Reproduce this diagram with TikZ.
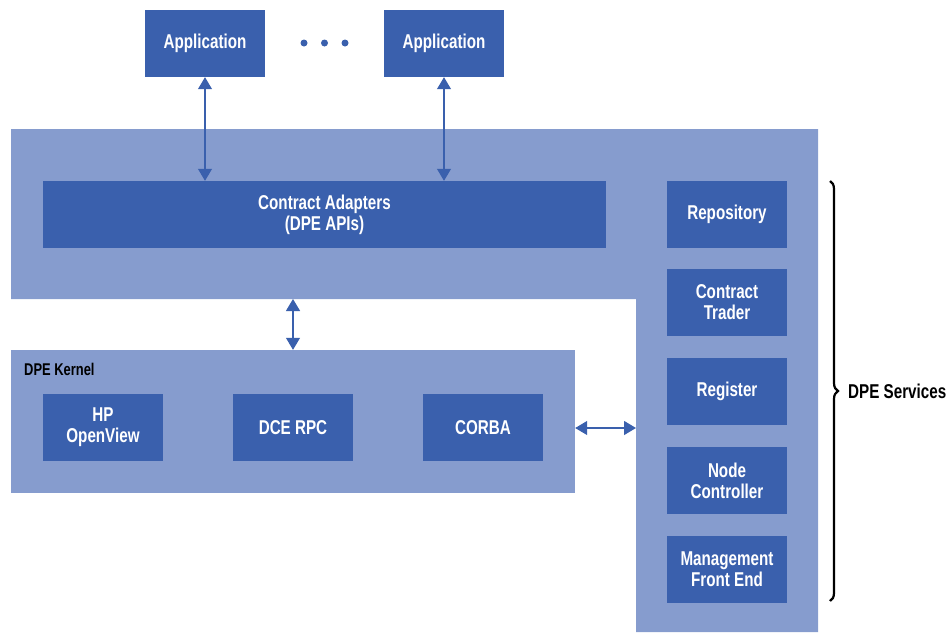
\documentclass[tikz,border=0pt]{standalone}
\usepackage{fontspec}
\setmainfont[FakeStretch=0.76]{Liberation Sans}
\usetikzlibrary{arrows.meta,decorations.pathreplacing}
\definecolor{dark}{RGB}{58,96,173}
\definecolor{light}{RGB}{134,156,206}
\newcommand\myboxfont{\bfseries\fontsize{20}{21}\selectfont}
\begin{document}
\begin{tikzpicture}[x=1pt,y=-1pt,
  box/.style={fill=dark,text=white,font=\myboxfont,minimum width=120pt,minimum height=67pt,inner sep=0pt,align=center},
  wide/.style={box,minimum width=563pt},
  region/.style={fill=light,minimum width=564pt,minimum height=143pt,inner sep=0pt},
  biarrow/.style={draw=dark,line width=1.2pt,{Triangle[length=12pt,width=14pt]}-{Triangle[length=12pt,width=14pt]}},
  lbl/.style={font=\bfseries\fontsize{20}{21}\selectfont,text=black,inner sep=0pt,anchor=west}]
\useasboundingbox (0,0) rectangle (948,633);
% L-shaped background
\fill[light] (11,129) -- (818,129) -- (818,632) -- (636,632) -- (636,299) -- (11,299) -- cycle;
\coordinate (topbot) at (293,299);
\coordinate (svcleft) at (636,428);
% applications
\node[box] (app1) at (205,43.5) {Application};
\node[box] (app2) at (444,43.5) {Application};
\fill[dark] (304,43) circle (3.5);
\fill[dark] (324.5,43) circle (3.5);
\fill[dark] (345,43) circle (3.5);
% contract adapters
\node[wide] (ca) at (324.5,214.5) {Contract Adapters\\(DPE APIs)};
% services
\node[box] (repo) at (727,214.5) {Repository};
\node[box] (trader) at (727,302.5) {Contract\\Trader};
\node[box] (reg) at (727,391.5) {Register};
\node[box] (nodectl) at (727,480.5) {Node\\Controller};
\node[box] (mfe) at (727,569.5) {Management\\Front End};
% kernel
\node[region] (kernel) at (293,421.5) {};
\node[lbl,font=\bfseries\fontsize{17}{19}\selectfont] (klabel) at (24,369.5) {DPE Kernel};
\node[box] (hp) at (103,427.5) {HP\\OpenView};
\node[box] (dce) at (293,427.5) {DCE RPC};
\node[box] (corba) at (483,427.5) {CORBA};
% arrows
\draw[biarrow] (app1.south) -- (app1.south |- ca.north);
\draw[biarrow] (app2.south) -- (app2.south |- ca.north);
\draw[biarrow] (topbot) -- (kernel.north);
\draw[biarrow] (kernel.east |- svcleft) -- (svcleft);
% brace
\draw[decorate,decoration={brace,amplitude=8pt},line width=2.2pt] (830,181) -- (830,601);
\node[lbl] (svclabel) at (848,391) {DPE Services};
\end{tikzpicture}
\end{document}
